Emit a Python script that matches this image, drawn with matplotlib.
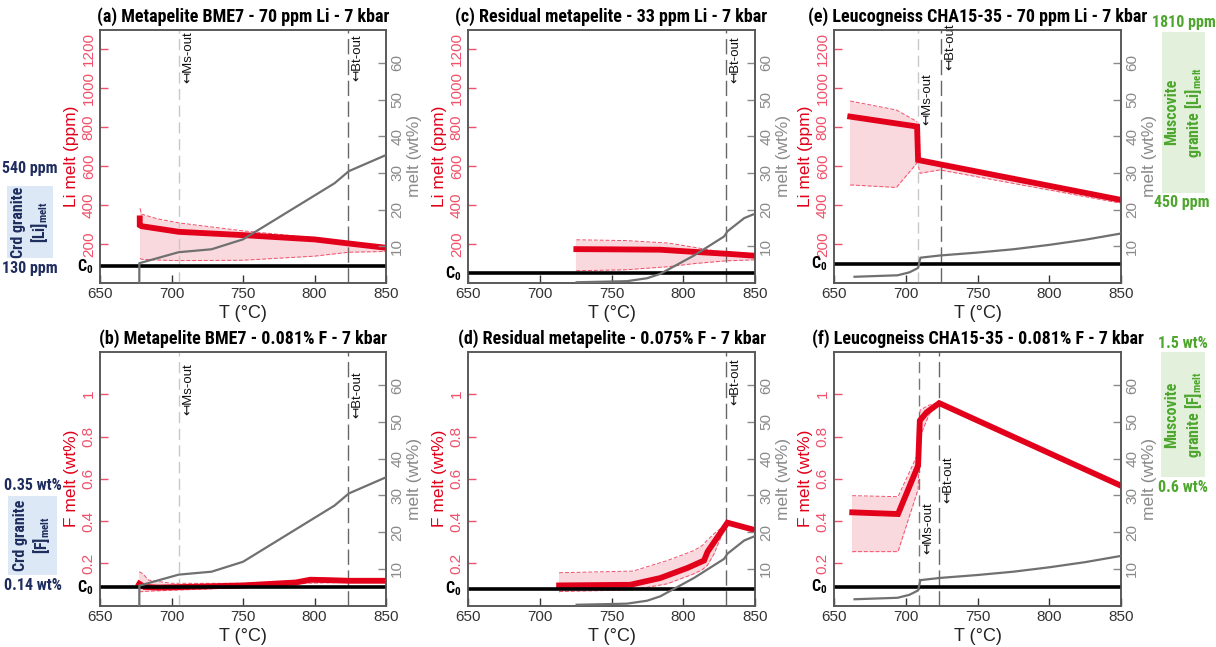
import matplotlib
matplotlib.use("Agg")
import matplotlib.pyplot as plt
from matplotlib.patches import Rectangle

# ---------------- data ----------------
temp_ticks = [650, 700, 750, 800, 850]
li_ticks = [200, 400, 600, 800, 1000, 1200]
f_ticks = [0.2, 0.4, 0.6, 0.8, 1.0]
f_ticklabels = ["0.2", "0.4", "0.6", "0.8", "1"]
melt_ticks = [10, 20, 30, 40, 50, 60]

titles = ["(a) Metapelite BME7 - 70 ppm Li - 7 kbar",
          "(c) Residual metapelite - 33 ppm Li - 7 kbar",
          "(e) Leucogneiss CHA15-35 - 70 ppm Li - 7 kbar",
          "(b) Metapelite BME7 - 0.081% F - 7 kbar",
          "(d) Residual metapelite - 0.075% F - 7 kbar",
          "(f) Leucogneiss CHA15-35 - 0.081% F - 7 kbar"]

# melt fraction curves (wt%)
bme7_melt_T = [677.5, 677.5, 705, 728, 750, 814, 824, 850]
bme7_melt = [0, 5.4, 8.4, 9.2, 11.9, 27.2, 30.5, 34.9]
res_melt_T = [725.7, 760.7, 774.8, 784, 807.5, 828.5, 830.8, 842.5, 850]
res_melt = [0.2, 0.5, 1.3, 2.5, 7.5, 12.7, 14.1, 17.7, 18.9]
leu_melt_T = [664.3, 694.3, 702.5, 708.6, 710.2, 723.7, 750, 775, 800, 825, 850]
leu_melt = [1.7, 2.1, 2.9, 4.1, 6.9, 7.5, 8.3, 9.2, 10.4, 11.8, 13.5]

# (a) Li in melt, BME7
a_T = [677.8, 677.8, 679, 705, 750, 800, 824, 850]
a_Li = [332, 297, 292, 263, 246, 224, 203, 181]
a_band_T = [678, 679, 690, 705, 750, 800, 824, 850]
a_band_hi = [383, 354, 330, 309, 268, 232, 205, 184]
a_band_lo = [127, 122, 118, 115, 117, 138, 158, 162]

# (c) Li in melt, residual metapelite
c_T = [725.5, 750, 784, 807.5, 830.8, 850]
c_Li = [174, 173, 171, 160, 150, 140]
c_band_T = [725.5, 760, 790, 808, 830, 850]
c_band_hi = [222, 218, 205, 183, 155, 143]
c_band_lo = [63, 68, 84, 100, 114, 119]

# (e) Li in melt, leucogneiss (two segments either side of Ms-out)
e_T = [661.3, 707.9, 708.6, 723.8, 850]
e_Li = [855, 804, 632, 610, 427]
e_band1_T = [661.3, 693.5, 708.0]
e_band1_hi = [935, 889, 829]
e_band1_lo = [504, 491, 618]
e_band2_T = [708.8, 710.0, 723.8, 850]
e_band2_hi = [640, 632, 615, 432]
e_band2_lo = [600, 564, 581, 410]

# (b) F in melt, BME7
b_T = [677.5, 681, 690, 705, 750, 787, 797, 810, 824, 850]
b_F = [0.103, 0.088, 0.085, 0.087, 0.095, 0.109, 0.122, 0.120, 0.117, 0.117]
b_band_T = [677.5, 680, 684, 700, 750, 790, 850]
b_band_hi = [0.16, 0.15, 0.12, 0.105, 0.105, 0.115, 0.122]
b_band_lo = [0.065, 0.066, 0.068, 0.072, 0.085, 0.105, 0.113]

# (d) F in melt, residual metapelite
d_T = [713.5, 763, 784, 803, 814.5, 817, 830.8, 850]
d_F = [0.095, 0.098, 0.13, 0.178, 0.213, 0.255, 0.392, 0.357]
d_band_T = [713.5, 765, 789, 807.4, 813.3, 816.8, 821.5, 829]
d_band_hi = [0.155, 0.163, 0.213, 0.26, 0.284, 0.31, 0.34, 0.38]
d_band_lo = [0.066, 0.074, 0.103, 0.15, 0.17, 0.19, 0.245, 0.37]

# (f) F in melt, leucogneiss
f_T = [662.7, 694.6, 708.6, 709.8, 714.5, 723.3, 850]
f_F = [0.441, 0.433, 0.662, 0.875, 0.914, 0.958, 0.567]
f_band_T = [662.7, 694.6, 708.6, 710.0, 716.0, 720.0]
f_band_hi = [0.52, 0.515, 0.72, 0.925, 0.948, 0.955]
f_band_lo = [0.255, 0.255, 0.55, 0.80, 0.90, 0.95]

# initial concentrations (C0 lines)
c0_values = [85, 50, 98, 0.086, 0.079, 0.087]

# reaction lines: (Ms-out, Bt-out) temperatures
ms_out = [705.3, None, 708.6, 705.3, None, 709.0]
bt_out = [823.7, 830.1, 724.5, 823.7, 830.1, 723.3]

# ---------------- style ----------------
W, H = 1216, 647
RED = "#e2001a"
RED_T = "#f0506a"
PINK = "#f9d9de"
GRAY = "#707070"
GRAY_T = "#8a8a8a"
NAVY = "#1f2d5e"
GREEN = "#4ea62e"
TITLE_FONT = ["Liberation Sans Narrow", "Roboto Condensed", "Open Sans Condensed", "DejaVu Sans"]
TICK_FONT = ["Liberation Sans", "DejaVu Sans"]

plt.rcParams["font.family"] = TICK_FONT
plt.rcParams["mathtext.fontset"] = "dejavusans"

fig = plt.figure(figsize=(W / 100, H / 100), dpi=100)

cols = [(100, 386), (468, 755), (834, 1121)]
rows = [(30, 283), (352, 605.5)]


def add_axes(px):
    (x0, x1), (y0, y1) = px
    return fig.add_axes([x0 / W, 1 - y1 / H, (x1 - x0) / W, (y1 - y0) / H])


panels = [
    dict(col=0, row=0, kind="Li", T=a_T, v=a_Li, bands=[(a_band_T, a_band_hi, a_band_lo)],
         mT=bme7_melt_T, m=bme7_melt),
    dict(col=1, row=0, kind="Li", T=c_T, v=c_Li, bands=[(c_band_T, c_band_hi, c_band_lo)],
         mT=res_melt_T, m=res_melt),
    dict(col=2, row=0, kind="Li", T=e_T, v=e_Li,
         bands=[(e_band1_T, e_band1_hi, e_band1_lo), (e_band2_T, e_band2_hi, e_band2_lo)],
         mT=leu_melt_T, m=leu_melt),
    dict(col=0, row=1, kind="F", T=b_T, v=b_F, bands=[(b_band_T, b_band_hi, b_band_lo)],
         mT=bme7_melt_T, m=bme7_melt),
    dict(col=1, row=1, kind="F", T=d_T, v=d_F, bands=[(d_band_T, d_band_hi, d_band_lo)],
         mT=res_melt_T, m=res_melt),
    dict(col=2, row=1, kind="F", T=f_T, v=f_F, bands=[(f_band_T, f_band_hi, f_band_lo)],
         mT=leu_melt_T, m=leu_melt),
]

# label placement (axes-fraction y start) for reaction labels
ms_label_y = [0.79, None, 0.625, 0.75, None, 0.205]
bt_label_y = [0.80, 0.79, 0.84, 0.74, 0.79, 0.405]
ms_colors = ["#c8c8c8", None, "#c8c8c8", "#c8c8c8", None, "#777777"]

for i, p in enumerate(panels):
    ax = add_axes((cols[p["col"]], rows[p["row"]]))
    ax.set_xlim(650, 850)
    if p["kind"] == "Li":
        ax.set_ylim(0, 1300)
        ax.set_yticks(li_ticks)
        ax.set_yticklabels([str(t) for t in li_ticks])
        ylab = "Li melt (ppm)"
    else:
        ax.set_ylim(0, 1.2)
        ax.set_yticks(f_ticks)
        ax.set_yticklabels(f_ticklabels)
        ylab = "F melt (wt%)"
    ax.set_xticks(temp_ticks)
    ax.tick_params(axis="x", direction="in", length=6, width=1, colors="#333333",
                   labelsize=11, pad=3)
    ax.tick_params(axis="y", direction="in", length=6, width=1, colors=RED_T,
                   labelsize=11, pad=3)
    for lab in ax.get_yticklabels():
        lab.set_rotation(90)
        lab.set_va("center")
    ax.set_ylabel(ylab, color=RED, fontsize=12.5, labelpad=2)
    ax.set_xlabel("T (°C)", color="#222222", fontsize=13, labelpad=3)
    for s in ax.spines.values():
        s.set_color("#555555")
        s.set_linewidth(1.1)

    # uncertainty bands
    for bT, hi, lo in p["bands"]:
        ax.fill_between(bT, lo, hi, color=PINK, lw=0, zorder=1)
        ax.plot(bT, hi, color=RED_T, lw=0.7, ls=(0, (4, 2)), zorder=2)
        ax.plot(bT, lo, color=RED_T, lw=0.7, ls=(0, (4, 2)), zorder=2)
        ax.plot([bT[0], bT[0]], [lo[0], hi[0]], color=PINK, lw=0.8, zorder=1)
    ax.plot(p["T"], p["v"], color=RED, lw=4.2, solid_joinstyle="miter", zorder=4)

    # C0 line
    ax.axhline(c0_values[i], color="black", lw=2.6, zorder=5)
    ax.text(-0.05, c0_values[i], r"C$_{\mathregular{0}}$", transform=ax.get_yaxis_transform(),
            ha="center", va="center", fontsize=11.5, color="black", fontweight="bold",
            family=TITLE_FONT)

    # reaction lines
    if ms_out[i] is not None:
        ax.axvline(ms_out[i], color=ms_colors[i], lw=1.0, ls=(0, (8, 4)), zorder=3)
        ax.text(ms_out[i] + 6.5, ms_label_y[i], "\u21a4Ms-out", rotation=90,
                transform=ax.get_xaxis_transform(), ha="center", va="bottom",
                fontsize=9.5, color="#111111")
    ax.axvline(bt_out[i], color="#666666", lw=1.0, ls=(0, (11, 4)), zorder=3)
    ax.text(bt_out[i] + 6.5, bt_label_y[i], "\u21a4Bt-out", rotation=90,
            transform=ax.get_xaxis_transform(), ha="center", va="bottom",
            fontsize=9.5, color="#111111")

    ax.set_title(titles[i], fontsize=13, fontweight="bold", family=TITLE_FONT, pad=6)

    # melt fraction on twin axis
    ax2 = ax.twinx()
    ax2.set_ylim(0, 69)
    ax2.set_yticks(melt_ticks)
    ax2.tick_params(axis="y", direction="in", length=6, width=1, colors=GRAY_T,
                    labelsize=11, pad=3)
    for lab in ax2.get_yticklabels():
        lab.set_rotation(90)
        lab.set_va("center")
    ax2.set_ylabel("melt (wt%)", color=GRAY_T, fontsize=12.5, labelpad=2)
    for s in ax2.spines.values():
        s.set_color("#555555")
        s.set_linewidth(1.1)
    ax2.plot(p["mT"], p["m"], color=GRAY, lw=1.6, zorder=6)


# ---------------- side annotations ----------------
def ftext(x, y, s, **kw):
    fig.text(x / W, 1 - y / H, s, **kw)


def fbox(x0, y0, x1, y1, color):
    fig.add_artist(Rectangle((x0 / W, 1 - y1 / H), (x1 - x0) / W, (y1 - y0) / H,
                             transform=fig.transFigure, color=color, lw=0, zorder=0))


side_kw = dict(fontweight="bold", family=TITLE_FONT, ha="center", va="center")

# Crd granite Li
ftext(30, 168, "540 ppm", color=NAVY, fontsize=11.5, **side_kw)
fbox(7, 186, 53, 258, "#dce8f5")
ftext(18, 222, "Crd granite", color=NAVY, fontsize=11.5, rotation=90, **side_kw)
ftext(39, 222, r"[Li]$_{\mathregular{melt}}$", color=NAVY, fontsize=11.5, rotation=90, **side_kw)
ftext(30, 268, "130 ppm", color=NAVY, fontsize=11.5, **side_kw)

# Crd granite F
ftext(33, 485, "0.35 wt%", color=NAVY, fontsize=11.5, **side_kw)
fbox(8, 496, 57, 575, "#dce8f5")
ftext(20, 535, "Crd granite", color=NAVY, fontsize=11.5, rotation=90, **side_kw)
ftext(41, 535, r"[F]$_{\mathregular{melt}}$", color=NAVY, fontsize=11.5, rotation=90, **side_kw)
ftext(33, 585, "0.14 wt%", color=NAVY, fontsize=11.5, **side_kw)

# Muscovite granite Li
ftext(1184, 22, "1810 ppm", color=GREEN, fontsize=11.5, **side_kw)
fbox(1162, 32, 1205, 193, "#e3f1dc")
ftext(1172, 112, "Muscovite", color=GREEN, fontsize=11.5, rotation=90, **side_kw)
ftext(1193, 112, r"granite [Li]$_{\mathregular{melt}}$", color=GREEN, fontsize=11.5, rotation=90, **side_kw)
ftext(1182, 202, "450 ppm", color=GREEN, fontsize=11.5, **side_kw)

# Muscovite granite F
ftext(1183, 343, "1.5 wt%", color=GREEN, fontsize=11.5, **side_kw)
fbox(1161, 352, 1205, 477, "#e3f1dc")
ftext(1172, 415, "Muscovite", color=GREEN, fontsize=11.5, rotation=90, **side_kw)
ftext(1193, 415, r"granite [F]$_{\mathregular{melt}}$", color=GREEN, fontsize=11.5, rotation=90, **side_kw)
ftext(1183, 488, "0.6 wt%", color=GREEN, fontsize=11.5, **side_kw)

fig.savefig("out.png", dpi=100)
